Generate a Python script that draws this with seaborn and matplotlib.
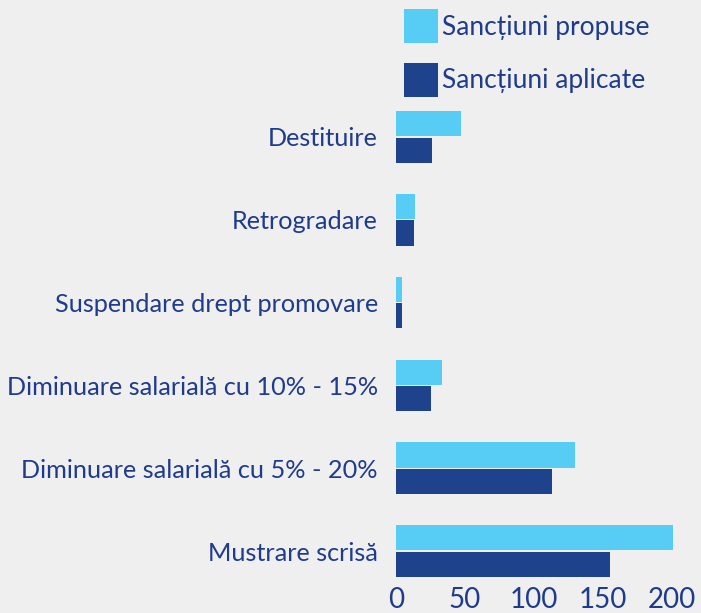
import pandas as pd
from matplotlib import pyplot as plt
from matplotlib.patches import Patch
import seaborn as sns

# Data
categories = ['Destituire', 'Retrogradare', 'Suspendare drept promovare',
              'Diminuare salarială cu 10% - 15%', 'Diminuare salarială cu 5% - 20%',
              'Mustrare scrisă']
propuse = [47, 14, 4, 33, 130, 201]
aplicate = [26, 13, 4, 25, 113, 155]
series = ['Sancțiuni propuse', 'Sancțiuni aplicate']
x_ticks = [0, 50, 100, 150, 200]

df = pd.concat([
    pd.DataFrame({'categorie': categories, 'valoare': propuse, 'tip': series[0]}),
    pd.DataFrame({'categorie': categories, 'valoare': aplicate, 'tip': series[1]}),
])

# Style
bg = '#efefef'
text_color = '#1f3b8c'
palette = {series[0]: '#57cdf5', series[1]: '#1e428c'}

sns.set_style('white')
plt.rcParams['font.family'] = ['Lato', 'DejaVu Sans']

fig = plt.figure(figsize=(7.01, 6.13), dpi=100, facecolor=bg)
W, H = 701, 613
ax = fig.add_axes([396 / W, 1 - 583 / H, 283 / W, 488 / H])
ax.set_facecolor(bg)

sns.barplot(data=df, x='valoare', y='categorie', hue='tip', palette=palette,
            orient='h', width=0.64, gap=0.05, ax=ax, legend=False, saturation=1,
            linewidth=0)

ax.set_xlim(0, 205)
ax.set_ylim(5.386, -0.507)
ax.set_xticks(x_ticks)
ax.set_xlabel('')
ax.set_ylabel('')
for s in ax.spines.values():
    s.set_visible(False)
ax.tick_params(axis='y', length=0, pad=13, labelsize=18.2, labelcolor=text_color)
ax.tick_params(axis='x', length=0, pad=3, labelsize=20, labelcolor=text_color)

handles = [Patch(facecolor=palette[s], edgecolor='none', label=s) for s in series]
fig.legend(handles=handles, loc='upper left', bbox_to_anchor=(404 / W, 1 - 9 / H),
           frameon=False, fontsize=19, labelcolor=text_color, borderpad=0, borderaxespad=0,
           handlelength=1.3, handleheight=1.6, handletextpad=0.15, labelspacing=0.75)

fig.savefig('out.png', dpi=100, facecolor=bg)
